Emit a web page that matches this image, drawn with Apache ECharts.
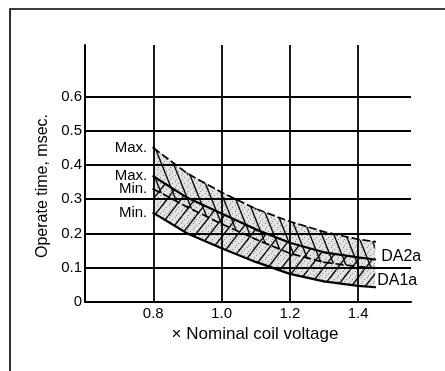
<!DOCTYPE html>
<html>
<head>
<meta charset="utf-8">
<script src="https://cdn.jsdelivr.net/npm/echarts@6/dist/echarts.min.js"></script>
<style>
  html, body {margin: 0; padding: 0; background: #fff;}
  #chart {width: 445px; height: 371px;}
</style>
</head>
<body>
<div id="chart"></div>
<script>
// coil voltage (x nominal) and operate time (msec)
const voltage = [0.8, 0.9, 1.0, 1.1, 1.2, 1.3, 1.4, 1.45];
const da2aMax = [0.45, 0.375, 0.32, 0.272, 0.235, 0.205, 0.183, 0.176];
const da1aMax = [0.367, 0.304, 0.258, 0.212, 0.173, 0.145, 0.13, 0.124];
const da2aMin = [0.33, 0.277, 0.228, 0.183, 0.142, 0.116, 0.103, 0.1];
const da1aMin = [0.26, 0.2, 0.157, 0.117, 0.082, 0.06, 0.047, 0.043];
const gridX = [0.8, 1.0, 1.2, 1.4];
const gridY = [0.1, 0.2, 0.3, 0.4, 0.5, 0.6];

const FONT = 'Liberation Sans';

function hatch(w, h, back) {
	const c = document.createElement('canvas');
	c.width = w; c.height = h;
	const g = c.getContext('2d');
	g.strokeStyle = '#111';
	g.lineWidth = 1.4;
	g.beginPath();
	for (let k = -1; k <= 1; k++) {
		if (back) { g.moveTo(k * w, 0); g.lineTo(k * w + w, h); }
		else { g.moveTo(k * w, h); g.lineTo(k * w + w, 0); }
	}
	g.stroke();
	return c;
}

function stipple() {
	const c = document.createElement('canvas');
	c.width = 6; c.height = 6;
	const g = c.getContext('2d');
	g.fillStyle = '#e2e2e2';
	g.fillRect(0, 0, 6, 6);
	g.fillStyle = '#8a8a8a';
	g.fillRect(1, 1, 1, 1);
	g.fillRect(4, 3, 1, 1);
	g.fillRect(2, 5, 1, 1);
	return c;
}

const dots = {image: stipple(), repeat: 'repeat'};

function band(upper, lower, pattern) {
	return {
		type: 'custom',
		coordinateSystem: 'cartesian2d',
		silent: true,
		z: 2,
		data: [[voltage[0], upper[0]]],
		renderItem: (params, api) => {
			const top = voltage.map((v, i) => api.coord([v, upper[i]]));
			const bottom = voltage.map((v, i) => api.coord([v, lower[i]])).reverse();
			const points = top.concat(bottom);
			return {
				type: 'group',
				children: [
					{type: 'polygon', z2: 0, shape: {points}, style: {fill: dots, stroke: null}},
					{type: 'polygon', z2: 1, shape: {points}, style: {fill: pattern, stroke: null}}
				]
			};
		}
	};
}

function curve(name, values, dashed, startText) {
	const data = voltage.map((v, i) => [v, values[i]]);
	data[0] = {
		value: data[0],
		label: {show: true, formatter: startText, position: 'left', distance: 5,
			color: '#000', fontFamily: FONT, fontSize: 15}
	};
	return {
		name,
		type: 'line',
		z: 3,
		data,
		symbol: 'circle',
		symbolSize: 2,
		itemStyle: {color: '#000'},
		lineStyle: {color: '#000', width: dashed ? 1.7 : 2.2, type: dashed ? [8, 3] : 'solid'}
	};
}

const chart = echarts.init(document.getElementById('chart'));
const s2 = curve('DA1a Max.', da1aMax, false, 'Max.');
s2.endLabel = {show: true, formatter: 'DA2a', distance: 6, offset: [0, -3],
	color: '#000', fontFamily: FONT, fontSize: 16};
const s4 = curve('DA1a Min.', da1aMin, false, 'Min.');
s4.endLabel = {show: true, formatter: 'DA1a', distance: 2, offset: [0, -7],
	color: '#000', fontFamily: FONT, fontSize: 16};

chart.setOption({
	animation: false,
	backgroundColor: '#fff',
	textStyle: {fontFamily: FONT},
	graphic: [{
		type: 'rect',
		shape: {x: 10, y: 9, width: 450, height: 400},
		style: {fill: null, stroke: '#000', lineWidth: 1.6},
		silent: true
	}],
	grid: {left: 85, right: 34, top: 45, bottom: 69},
	xAxis: {
		type: 'value',
		min: 0.6,
		max: 1.555,
		interval: 0.2,
		name: '× Nominal coil voltage',
		nameLocation: 'middle',
		nameGap: 20,
		nameTextStyle: {color: '#000', fontSize: 17, fontFamily: FONT, padding: [0, 0, 0, 14]},
		axisLine: {lineStyle: {color: '#000', width: 2}},
		axisTick: {show: false},
		splitLine: {show: false},
		axisLabel: {
			color: '#000', fontSize: 15, fontFamily: FONT, margin: 4,
			showMinLabel: false, showMaxLabel: false,
			formatter: v => v.toFixed(1)
		}
	},
	yAxis: {
		type: 'value',
		min: 0,
		max: 0.75,
		interval: 0.1,
		name: 'Operate time, msec.',
		nameLocation: 'middle',
		nameGap: 33,
		nameTextStyle: {color: '#000', fontSize: 16, fontFamily: FONT, padding: [0, 25, 0, 0]},
		axisLine: {show: true, lineStyle: {color: '#000', width: 2}},
		axisTick: {show: false},
		splitLine: {show: false},
		axisLabel: {
			color: '#000', fontSize: 15, fontFamily: FONT, margin: 3,
			showMaxLabel: false,
			formatter: v => v > 0.65 ? '' : (v === 0 ? '0' : v.toFixed(1))
		}
	},
	series: [
		{
			type: 'line',
			data: [],
			z: 1,
			markLine: {
				silent: true,
				symbol: ['none', 'none'],
				label: {show: false},
				lineStyle: {color: '#000', width: 1.8, type: 'solid'},
				data: gridY.map(v => ({yAxis: v})).concat(gridX.map(v => ({xAxis: v})))
			}
		},
		band(da2aMax, da2aMin, {image: hatch(12, 30, true), repeat: 'repeat'}),
		band(da1aMax, da1aMin, {image: hatch(14, 18, false), repeat: 'repeat'}),
		curve('DA2a Max.', da2aMax, true, 'Max.'),
		s2,
		curve('DA2a Min.', da2aMin, true, 'Min.'),
		s4
	]
});
</script>
</body>
</html>
